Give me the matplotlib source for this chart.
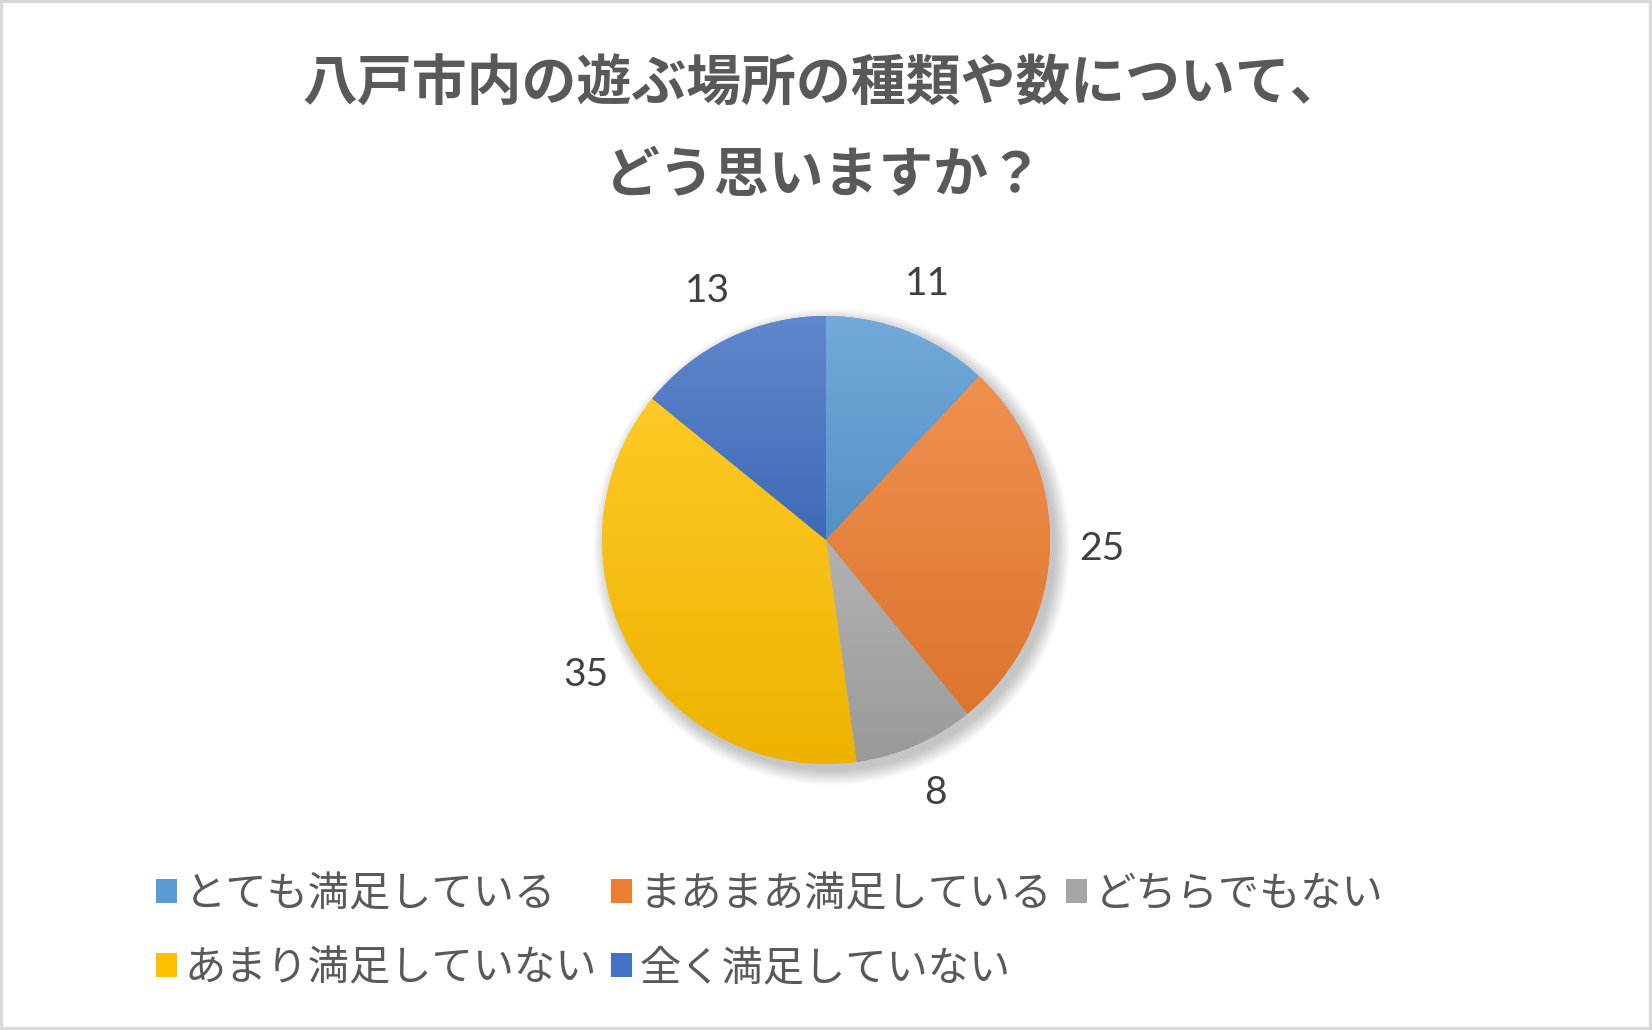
import matplotlib
matplotlib.use("Agg")
import numpy as np
import matplotlib.pyplot as plt
from matplotlib.patches import Rectangle, Circle
from matplotlib.colors import to_rgb

# Data
title_lines = ["八戸市内の遊ぶ場所の種類や数について、", "どう思いますか？"]
categories = ["とても満足している", "まあまあ満足している", "どちらでもない",
              "あまり満足していない", "全く満足していない"]
counts = [11, 25, 8, 35, 13]

colors = ["#5B9BD5", "#ED7D31", "#A5A5A5", "#FFC000", "#4472C4"]
text_grey = "#595959"

W, H = 1652, 1030
fig = plt.figure(figsize=(W / 100, H / 100), dpi=100)
fig.patch.set_facecolor("white")

# outer border
fig.patches.append(Rectangle((0, 0), 1, 1, transform=fig.transFigure, fill=False,
                             edgecolor="#D9D9D9", linewidth=4.5, zorder=10))

# title
fig.text(824 / W, 1 - 84 / H, title_lines[0], ha="center", va="center",
         fontsize=39.5, fontweight="bold", color=text_grey, family=["Noto Sans CJK JP"])
fig.text(824 / W, 1 - 176 / H, title_lines[1], ha="center", va="center",
         fontsize=39.5, fontweight="bold", color=text_grey, family=["Noto Sans CJK JP"])

# pie axes: centre (826, 540) px, radius 224 px
R = 224
box = 620
cx, cy = 826, 540
ax = fig.add_axes([(cx - box / 2) / W, (H - cy - box / 2) / H, box / W, box / H])
lim = box / 2 / R

# soft shadow
for i in range(10):
    ax.add_patch(Circle((0.025, -0.03), 1.0 + 0.007 * i, facecolor="black",
                        edgecolor="none", alpha=0.025, zorder=0))

wedges, texts = ax.pie(counts, labels=[str(v) for v in counts], colors=colors,
                       startangle=90, counterclock=False, radius=1,
                       labeldistance=1.23,
                       wedgeprops=dict(linewidth=0, zorder=1),
                       textprops=dict(fontsize=28, color="#404040", family=["Lato", "DejaVu Sans"]))
for t in texts:
    t.set_ha("center")
    t.set_va("center")

# vertical gradient on each wedge
for w, c in zip(wedges, colors):
    base = np.array(to_rgb(c))
    top = base + (1 - base) * 0.15
    bottom = base * 0.93
    n = 256
    frac = np.linspace(0, 1, n)[:, None]
    grad = top * (1 - frac) + bottom * frac
    grad = grad[:, None, :]
    ext = w.get_path().get_extents()
    im = ax.imshow(grad, extent=(ext.x0, ext.x1, ext.y0, ext.y1), origin="upper",
                   aspect="auto", interpolation="bilinear", zorder=2)
    im.set_clip_path(w)

ax.set_xlim(-lim, lim)
ax.set_ylim(-lim, lim)
ax.set_aspect("equal")
ax.axis("off")

# legend, row-major order in 3 columns
order = [0, 3, 1, 4, 2]
leg = fig.legend([wedges[i] for i in order], [categories[i] for i in order],
                 loc="upper left", bbox_to_anchor=(156 / W, 1 - 874 / H),
                 ncol=3, frameon=False, borderpad=0, borderaxespad=0,
                 handlelength=0.52, handleheight=0.52, handletextpad=0.18,
                 columnspacing=0.33, labelspacing=0.8,
                 prop=dict(family=["Noto Sans CJK JP"], size=29.7))
for t in leg.get_texts():
    t.set_color(text_grey)

fig.savefig("out.png", dpi=100)
